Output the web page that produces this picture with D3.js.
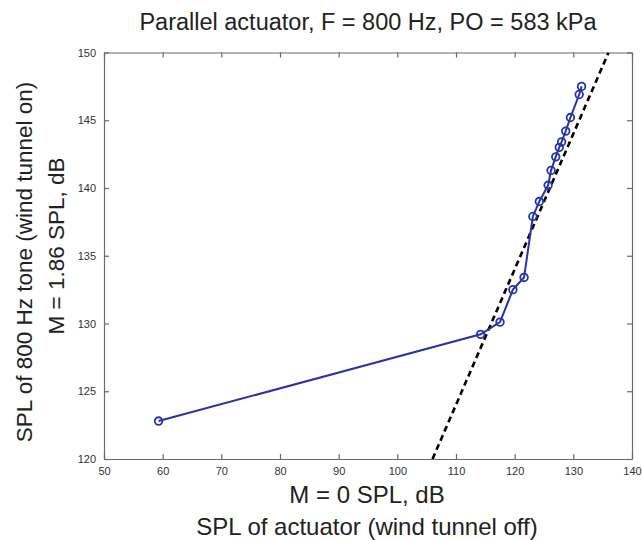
<!DOCTYPE html>
<html>
<head>
<meta charset="utf-8">
<script src="https://cdn.jsdelivr.net/npm/d3@7"></script>
<style>
  body { margin: 0; background: #fff; }
  text { font-family: "Liberation Sans", Arial, sans-serif; }
</style>
</head>
<body>
<svg id="drawing_region"></svg>
<script>
// measured points (wind tunnel off vs on)
const splOff = [59.3, 114.2, 117.5, 119.7, 121.6, 123.1, 124.2, 125.7, 126.2, 127.0, 127.6, 128.0, 128.7, 129.5, 131.0, 131.4];
const splOn  = [122.8, 129.2, 130.1, 132.5, 133.4, 137.9, 139.0, 140.2, 141.3, 142.3, 143.0, 143.4, 144.2, 145.2, 146.9, 147.5];
// dashed reference line
const refX = [106, 136];
const refY = [120, 150];
const xTicks = [50, 60, 70, 80, 90, 100, 110, 120, 130, 140];
const yTicks = [120, 125, 130, 135, 140, 145, 150];

const config = {
    width: 642,
    height: 540,
    margin: {top: 52.5, right: 10, bottom: 81, left: 104}
};

const svg = d3.select('#drawing_region')
    .attr('width', config.width)
    .attr('height', config.height);

const inner_width = 632 - config.margin.left;
const inner_height = config.height - config.margin.top - config.margin.bottom;

const chart = svg.append('g')
    .attr('transform', `translate(${config.margin.left}, ${config.margin.top})`);

const xscale = d3.scaleLinear().domain([50, 140]).range([0, inner_width]);
const yscale = d3.scaleLinear().domain([120, 150]).range([inner_height, 0]);

// axes, MATLAB style with inward ticks on all four sides
const tick = 5;
const xaxis = d3.axisBottom(xscale).tickValues(xTicks).tickSizeInner(-tick).tickSizeOuter(0).tickPadding(8);
const yaxis = d3.axisLeft(yscale).tickValues(yTicks).tickSizeInner(-tick).tickSizeOuter(0).tickPadding(8);
const xaxisTop = d3.axisTop(xscale).tickValues(xTicks).tickSizeInner(-tick).tickSizeOuter(0).tickFormat('');
const yaxisRight = d3.axisRight(yscale).tickValues(yTicks).tickSizeInner(-tick).tickSizeOuter(0).tickFormat('');

const axisColor = '#6a6a6a';
function styleAxis(g) {
    g.selectAll('path, line').attr('stroke', axisColor).attr('stroke-width', 1.2);
    g.selectAll('text').attr('fill', '#333').style('font-size', '11px');
}

chart.append('g').attr('transform', `translate(0, ${inner_height})`).call(xaxis).call(styleAxis);
chart.append('g').call(yaxis).call(styleAxis);
chart.append('g').call(xaxisTop).call(styleAxis);
chart.append('g').attr('transform', `translate(${inner_width}, 0)`).call(yaxisRight).call(styleAxis);

chart.append('clipPath').attr('id', 'plot-clip')
    .append('rect').attr('width', inner_width).attr('height', inner_height);

// dashed reference line
const refData = refX.map((x, i) => ({x: x, y: refY[i]}));
chart.append('path')
    .datum(refData)
    .attr('clip-path', 'url(#plot-clip)')
    .attr('fill', 'none')
    .attr('stroke', '#000')
    .attr('stroke-width', 2.6)
    .attr('stroke-dasharray', '6,4')
    .attr('d', d3.line().x(d => xscale(d.x)).y(d => yscale(d.y)));

// measured data
const pts = splOff.map((x, i) => ({x: x, y: splOn[i]}));
const blue = '#2535a8';
chart.append('path')
    .datum(pts)
    .attr('fill', 'none')
    .attr('stroke', blue)
    .attr('stroke-width', 2)
    .attr('d', d3.line().x(d => xscale(d.x)).y(d => yscale(d.y)));

chart.selectAll('circle')
    .data(pts)
    .enter()
    .append('circle')
    .attr('cx', d => xscale(d.x))
    .attr('cy', d => yscale(d.y))
    .attr('r', 3.8)
    .attr('fill', 'none')
    .attr('stroke', blue)
    .attr('stroke-width', 1.8);

// titles
svg.append('text')
    .attr('x', 368).attr('y', 30)
    .attr('text-anchor', 'middle')
    .style('font-size', '23.5px')
    .attr('fill', '#222')
    .text('Parallel actuator, F = 800 Hz, PO = 583 kPa');

svg.append('text')
    .attr('x', 367).attr('y', 503)
    .attr('text-anchor', 'middle')
    .style('font-size', '24px')
    .attr('fill', '#222')
    .text('M = 0 SPL, dB');

svg.append('text')
    .attr('x', 367).attr('y', 535)
    .attr('text-anchor', 'middle')
    .style('font-size', '24px')
    .attr('fill', '#222')
    .text('SPL of actuator (wind tunnel off)');

svg.append('text')
    .attr('transform', 'translate(32, 262) rotate(-90)')
    .attr('text-anchor', 'middle')
    .style('font-size', '22.5px')
    .attr('fill', '#222')
    .text('SPL of 800 Hz tone (wind tunnel on)');

svg.append('text')
    .attr('transform', 'translate(64, 246) rotate(-90)')
    .attr('text-anchor', 'middle')
    .style('font-size', '22.5px')
    .attr('fill', '#222')
    .text('M = 1.86 SPL, dB');
</script>
</body>
</html>
